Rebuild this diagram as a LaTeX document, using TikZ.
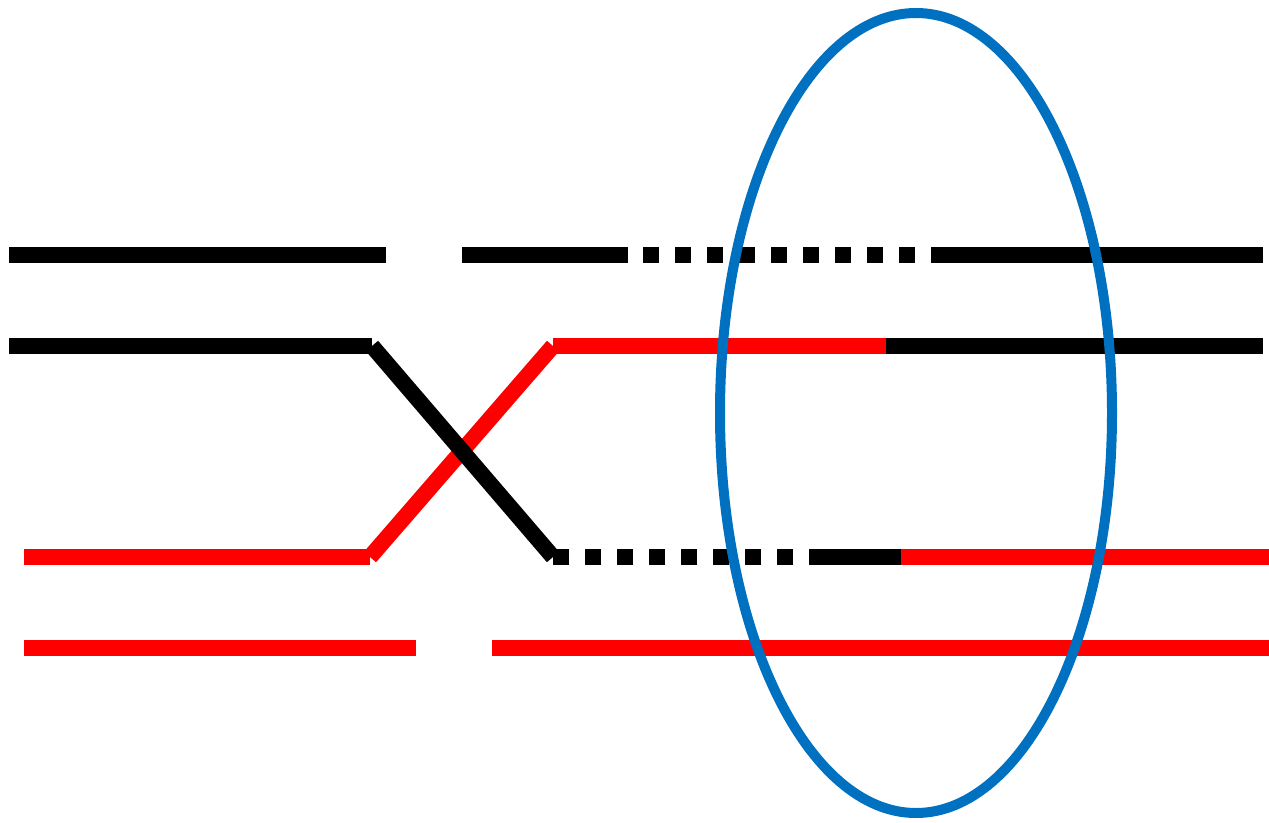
\documentclass[tikz,border=0pt]{standalone}
\definecolor{lineRed}{HTML}{FF0000}
\definecolor{ringBlue}{HTML}{0070C0}
\tikzset{
  wire/.style={line width=16pt, line cap=butt},
  blk/.style={wire, black},
  rd/.style={wire, lineRed},
  dotwire/.style={blk, dash pattern=on 16pt off 16pt},
  ring/.style={draw=ringBlue, line width=10pt}
}
\begin{document}
\begin{tikzpicture}[x=1pt,y=-1pt]
\useasboundingbox (0,0) rectangle (1269,822);
% top black line
\draw[blk] (9,255) -- (386,255);
\draw[blk] (462,255) -- (628,255);
\draw[dotwire] (643,255) -- (915,255);
\draw[blk] (931,255) -- (1263,255);
% second line
\draw[blk] (9,346) -- (372,346);
\draw[rd] (553,346) -- (886,346);
\draw[blk] (886,346) -- (1263,346);
% third line
\draw[rd] (24,557) -- (370,557);
\draw[dotwire] (553,557) -- (793,557);
\draw[blk] (809,557) -- (901,557);
\draw[rd] (901,557) -- (1269,557);
% crossing
\draw[rd] (370,557) -- (553,346);
\draw[blk] (372,346) -- (553,557);
% bottom red line
\draw[rd] (24,648) -- (416,648);
\draw[rd] (492,648) -- (1269,648);
% ellipse
\draw[ring] (916,413) ellipse [x radius=196, y radius=400];
\end{tikzpicture}
\end{document}
